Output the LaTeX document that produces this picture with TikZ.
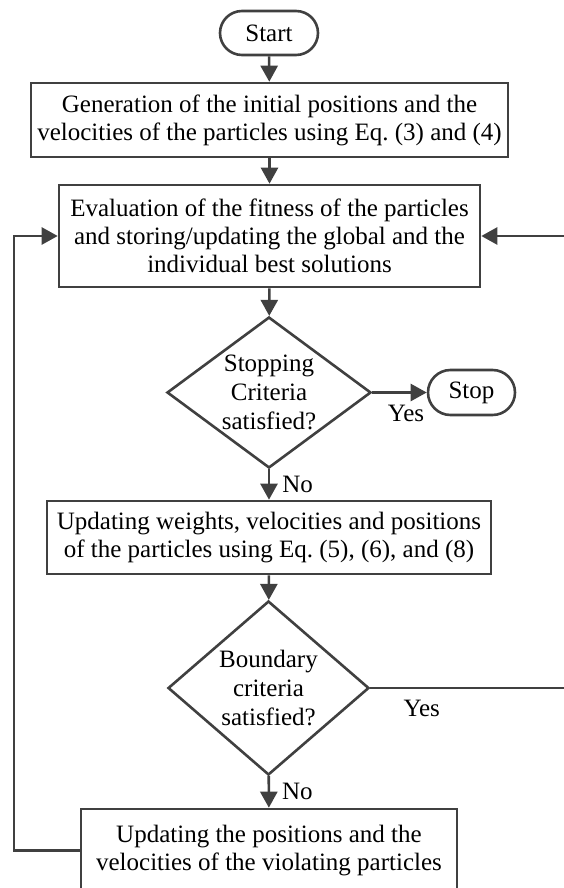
\documentclass[tikz,border=0pt]{standalone}
\usepackage{fontspec}
\setmainfont{Liberation Serif}
\usetikzlibrary{positioning,arrows.meta,shapes.geometric,shapes.misc}
\definecolor{ink}{HTML}{404040}

\begin{document}
\begin{tikzpicture}[x=1pt,y=-1pt,font=\fontsize{25}{28}\selectfont,>={Triangle[length=16pt,width=17pt]},
  term/.style={rounded rectangle,draw=ink,line width=2.6pt,inner sep=0pt},
  box/.style={rectangle,draw=ink,line width=2.6pt,align=center,inner sep=0pt},
  test/.style={diamond,draw=ink,line width=2.6pt,align=center,inner sep=-3pt,font=\fontsize{25}{29}\selectfont},
  flow/.style={->,draw=ink,line width=2.6pt}]
\useasboundingbox (0,0) rectangle (563,888);
% main column
\node[term,minimum width=98pt,minimum height=44pt] (start) at (269,33) {Start};
\node[box,minimum width=477pt,minimum height=74pt] (gen) at (269.5,120) {Generation of the initial positions and the\\velocities of the particles using Eq.~(3) and (4)};
\node[box,minimum width=421pt,minimum height=102pt] (eval) at (269.5,236) {Evaluation of the fitness of the particles\\and storing/updating the global and the\\individual best solutions};
\node[test,aspect=1.35,minimum width=204pt,minimum height=151pt] (stopq) at (269,392.5) {Stopping\\Criteria\\satisfied?};
\node[term,minimum width=87pt,minimum height=45pt] (stop) at (471.5,392.5) {Stop};
\node[box,minimum width=444pt,minimum height=73pt] (upd) at (269,537.5) {Updating weights, velocities and positions\\of the particles using Eq.~(5), (6), and (8)};
\node[test,aspect=1.155,minimum width=201pt,minimum height=174pt] (bnd) at (268.5,688) {Boundary\\criteria\\satisfied?};
\node[box,minimum width=376pt,minimum height=83pt] (viol) at (269,850.5) {Updating the positions and the\\velocities of the violating particles};
\coordinate (rt) at (568,0);
\coordinate (lt) at (14,0);
% arrows
\draw[flow] (start) -- (gen);
\draw[flow] (gen) -- (eval);
\draw[flow] (eval) -- (stopq);
\draw[flow] (stopq) -- node[pos=0.62,below=11pt,inner sep=0pt] (yes1) {Yes} (stop);
\draw[flow] (stopq) -- node[right=12pt,inner sep=0pt] (no1) {No} (upd);
\draw[flow] (upd) -- (bnd);
\draw[flow] (bnd) -- node[right=12pt,inner sep=0pt] (no2) {No} (viol);
% loops back
\draw[flow] (bnd.east) -- node[pos=0.26,below=11pt,inner sep=0pt] (yes2) {Yes} (bnd.east -| rt) |- (eval.east);
\draw[flow] (viol.west) -- (viol.west -| lt) |- (eval.west);
\end{tikzpicture}
\end{document}
